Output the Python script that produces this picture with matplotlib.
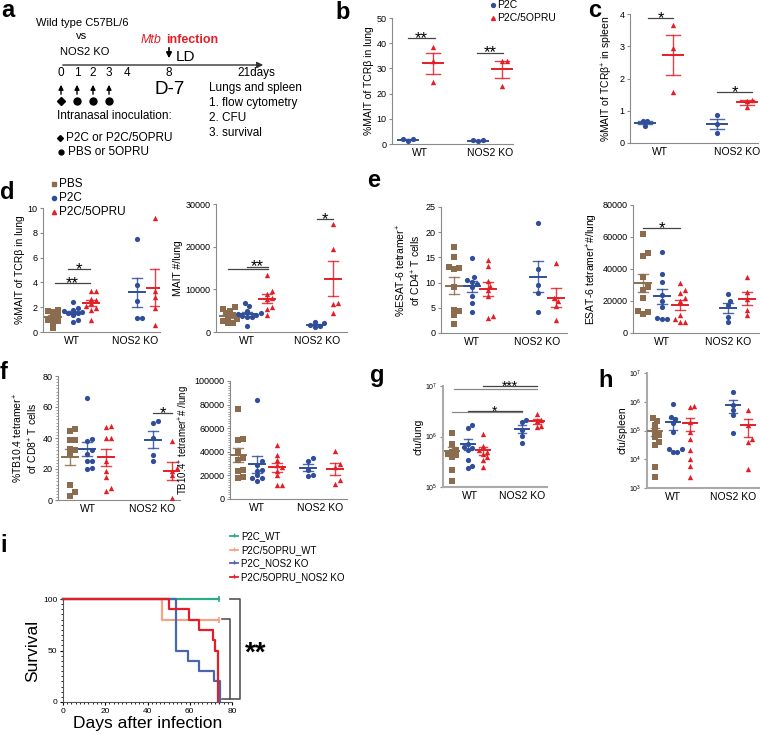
import numpy as np
import matplotlib.pyplot as plt
from matplotlib.ticker import AutoMinorLocator, NullLocator

plt.rcParams['font.family'] = ['Liberation Sans', 'DejaVu Sans']
plt.rcParams['mathtext.default'] = 'regular'

# ---------------- values ----------------
groups = ['WT', 'NOS2 KO']

# b: %MAIT of TCRb in lung
b_p2c_wt = [1.3, 2.0, 2.0]
b_opru_wt = [38.5, 33.0, 24.5]
b_p2c_ko = [1.0, 1.5, 1.6]
b_opru_ko = [33.0, 33.0, 23.0]

# c: %MAIT of TCRb+ in spleen
c_p2c_wt = [0.67, 0.54, 0.67]
c_opru_wt = [3.66, 2.94, 1.57]
c_p2c_ko = [0.87, 0.60, 0.30]
c_opru_ko = [1.34, 1.30, 1.13]

# d: %MAIT of TCRb in lung / MAIT #/lung
d_pbs_wt = [1.8, 1.7, 1.6, 1.4, 1.2, 1.0, 0.9, 0.8, 0.3]
d_p2c_wt = [2.4, 1.9, 1.8, 1.7, 1.6, 1.5, 1.5, 1.4, 1.0, 0.8]
d_opru_wt = [3.3, 3.3, 2.7, 2.6, 2.3, 2.1, 1.9, 1.8, 1.0]
d_p2c_ko = [7.5, 3.8, 2.5, 1.1, 1.1]
d_opru_ko = [9.2, 3.3, 2.8, 1.9, 0.6]

dn_pbs_wt = [5800, 5500, 5000, 4500, 4000, 3500, 3000, 2500, 2200, 2000]
dn_p2c_wt = [6700, 6000, 5000, 4500, 4200, 4000, 3800, 3600, 3500, 1500]
dn_opru_wt = [13300, 9700, 8900, 7900, 7700, 5800, 5500, 4000]
dn_p2c_ko = [2300, 2000, 1700, 1500, 1200]
dn_opru_ko = [25200, 19400, 6700, 6500, 4500]

# e: ESAT-6 tetramer+ CD4 T cells
e_pbs_wt = [17.0, 15.0, 13.0, 12.8, 12.7, 9.2, 4.6, 4.3, 3.6, 1.8]
e_p2c_wt = [14.9, 11.1, 10.6, 10.2, 9.8, 9.2, 7.4, 6.0, 4.1]
e_opru_wt = [14.4, 13.2, 10.4, 9.4, 8.6, 7.4, 3.4, 2.9]
e_p2c_ko = [21.9, 12.6, 9.5, 7.9, 4.1]
e_opru_ko = [13.8, 7.0, 6.3, 5.4, 2.5]

en_pbs_wt = [62000, 50000, 48000, 35000, 29000, 27000, 22000, 14000, 13000, 12000]
en_p2c_wt = [50500, 37000, 32000, 24000, 20000, 16000, 9500, 9000, 8500]
en_opru_wt = [31500, 27000, 25000, 22000, 20000, 11000, 9000, 7000, 7000]
en_p2c_ko = [24500, 20000, 17500, 10000, 7000]
en_opru_ko = [34800, 25500, 21500, 14500, 11000]

# f: TB10.4 tetramer+ CD8 T cells
f_pbs_wt = [46.0, 44.5, 39.0, 38.5, 33.0, 32.0, 30.0, 9.5, 5.0, 2.5]
f_p2c_wt = [65.5, 39.5, 38.0, 32.0, 30.0, 25.0, 25.0, 20.5, 20.0]
f_opru_wt = [48.0, 47.0, 40.0, 40.0, 25.0, 19.0, 15.0, 8.0, 6.0]
f_p2c_ko = [51.0, 50.0, 40.0, 29.0, 25.0]
f_opru_ko = [38.0, 20.5, 19.0, 16.0, 1.5]

fn_pbs_wt = [76500, 51000, 50000, 40000, 35000, 33000, 25000, 23500, 19000, 18000]
fn_p2c_wt = [83500, 32000, 29000, 25000, 24000, 20000, 18000, 17500, 15500]
fn_opru_wt = [46000, 37500, 33000, 29000, 27000, 24000, 20000, 12000, 12000]
fn_p2c_ko = [34500, 32500, 25000, 20500, 19500]
fn_opru_ko = [41000, 30000, 27000, 16000, 13000]

# g: cfu/lung
g_pbs_wt = [1.2e6, 7.2e5, 5.4e5, 5.0e5, 4.6e5, 4.3e5, 4.0e5, 2.2e5, 1.3e5]
g_p2c_wt = [1.7e6, 1.45e6, 7.2e5, 6.2e5, 5.8e5, 5.4e5, 3.4e5, 2.6e5, 2.4e5]
g_opru_wt = [1.1e6, 6.4e5, 5.4e5, 5.0e5, 4.6e5, 4.0e5, 3.4e5, 2.5e5]
g_p2c_ko = [2.1e6, 1.95e6, 1.35e6, 1.02e6, 7.6e5]
g_opru_ko = [2.75e6, 2.1e6, 2.0e6, 1.6e6, 1.55e6]

# h: cfu/spleen
h_pbs_wt = [2.8e5, 2.1e5, 1.5e5, 1.0e5, 7.0e4, 5.8e4, 3.9e4, 3.2e4, 5.4e3, 2.4e3]
h_p2c_wt = [8.3e5, 3.0e5, 2.5e5, 1.8e5, 8.7e4, 2.2e4, 2.2e4, 1.8e4, 1.8e4]
h_opru_wt = [7.0e5, 6.4e5, 1.9e5, 8.7e4, 5.0e4, 2.1e4, 1.0e4, 6.0e3, 2.4e3]
h_p2c_ko = [2.1e6, 7.6e5, 5.0e5, 3.4e5, 8.0e4]
h_opru_ko = [5.0e5, 1.6e5, 5.0e4, 3.9e4, 4.7e3]

# i: survival (step curves)
surv_names = ['P2C_WT', 'P2C/5OPRU_WT', 'P2C_NOS2 KO', 'P2C/5OPRU_NOS2 KO']
t_p2c_wt = [0, 73.7]
s_p2c_wt = [100, 100]
t_opru_wt = [0, 47, 73.7]
s_opru_wt = [100, 80, 80]
t_p2c_ko = [0, 53.4, 59.4, 64.5, 71.3, 74.5]
s_p2c_ko = [100, 50, 40, 30, 20, 0]
t_opru_ko = [0, 50.4, 59.7, 64.5, 71.0, 72.1, 73.5]
s_opru_ko = [100, 90, 80, 70, 60, 50, 0]

# ---------------- style ----------------
BROWN = '#8c6c4f'
BLUE = '#2f4d99'
RED = '#e31e27'
TEAL = '#2aaa8a'
SALMON = '#f4a482'
SBLUE = '#4a67ad'
SPINE = '#8a8a8a'

W, H = 760, 735
fig = plt.figure(figsize=(W / 100, H / 100), dpi=100)


def px_axes(x0, y0, x1, y1):
    ax = fig.add_axes([x0 / W, 1 - y1 / H, (x1 - x0) / W, (y1 - y0) / H])
    ax.patch.set_visible(False)
    ax.set_xlim(0, x1 - x0)
    return ax


def swarm(yp, d):
    # simple beeswarm offsets (in pixels) so points of similar value sit side by side
    order = np.argsort(yp)
    placed = []
    offs = np.zeros(len(yp))
    for i in order:
        for k in range(40):
            cands = [0.0] if k == 0 else [k * d * 0.5, -k * d * 0.5]
            found = None
            for off in cands:
                if all((off - px) ** 2 + (yp[i] - py) ** 2 >= d * d for px, py in placed):
                    found = off
                    break
            if found is not None:
                break
        placed.append((found, yp[i]))
        offs[i] = found
    return offs


def dot_panel(ax, height, series, ylim, log=False, hw=8, cap=5, d=4.6):
    lo, hi = ylim
    for xc, vals, color, marker in series:
        v = np.asarray(vals, float)
        if log:
            yp = (np.log10(v) - np.log10(lo)) / (np.log10(hi) - np.log10(lo)) * height
        else:
            yp = (v - lo) / (hi - lo) * height
        xs = xc + swarm(yp, d)
        size = {'s': 17, 'o': 14, '^': 15}[marker]
        ax.scatter(xs, v, s=size, marker=marker, color=color, lw=0, zorder=3)
        m = v.mean()
        se = v.std(ddof=1) / np.sqrt(len(v))
        ax.plot([xc - hw, xc + hw], [m, m], color=color, lw=1.4, zorder=4)
        ax.plot([xc, xc], [m - se, m + se], color=color, lw=1.0, zorder=4, alpha=0.85)
        for yy in (m - se, m + se):
            ax.plot([xc - cap, xc + cap], [yy, yy], color=color, lw=1.0, zorder=4, alpha=0.85)
    if log:
        ax.set_yscale('log')
        ax.yaxis.set_minor_locator(NullLocator())
    ax.set_ylim(lo, hi)
    for s in ('top', 'right'):
        ax.spines[s].set_visible(False)
    for s in ('left', 'bottom'):
        ax.spines[s].set_color(SPINE)
    ax.tick_params(axis='x', length=0, labelsize=7.5, pad=3)
    ax.tick_params(axis='y', length=2.5, width=0.8, color=SPINE, labelsize=6.5, pad=1.5)


def sig(ax, x1, x2, y, txt, fs=12, color='#444444'):
    ax.plot([x1, x2], [y, y], color=color, lw=0.9, clip_on=False, zorder=5)
    ax.annotate(txt, ((x1 + x2) / 2, y), xytext=(0, -3.5), textcoords='offset points',
                ha='center', va='baseline', fontsize=fs, annotation_clip=False)


# ---------------- b ----------------
ax = px_axes(392, 18, 513, 144)
dot_panel(ax, 126, [(16, b_p2c_wt, BLUE, 'o'), (41, b_opru_wt, RED, '^'),
                    (86, b_p2c_ko, BLUE, 'o'), (110, b_opru_ko, RED, '^')],
          (0, 50), hw=10, cap=7)
ax.set_yticks([0, 10, 20, 30, 40, 50])
ax.set_xticks([28, 98], groups)
ax.set_ylabel('%MAIT of TCRβ in lung', fontsize=7.5, labelpad=2)
sig(ax, 16, 43, 42, '**')
sig(ax, 85, 111, 36.3, '**')

# ---------------- c ----------------
ax = px_axes(630, 14, 758, 143)
dot_panel(ax, 129, [(15, c_p2c_wt, BLUE, 'o'), (43, c_opru_wt, RED, '^'),
                    (87, c_p2c_ko, BLUE, 'o'), (117, c_opru_ko, RED, '^')],
          (0, 4), hw=10, cap=7)
ax.set_yticks([0, 1, 2, 3, 4])
ax.set_xticks([30, 107], groups)
ax.set_ylabel('%MAIT of TCRβ$^{+}$ in spleen', fontsize=7.5, labelpad=3)
sig(ax, 18, 43, 3.87, '*')
sig(ax, 87, 122, 1.58, '*')

# ---------------- d ----------------
ax = px_axes(43, 208, 160, 332)
dot_panel(ax, 124, [(10, d_pbs_wt, BROWN, 's'), (30, d_p2c_wt, BLUE, 'o'),
                    (48, d_opru_wt, RED, '^'), (94, d_p2c_ko, BLUE, 'o'),
                    (112, d_opru_ko, RED, '^')], (0, 10))
ax.set_yticks([0, 2, 4, 6, 8, 10])
ax.set_xticks([29, 92], groups)
ax.set_ylabel('%MAIT of TCRβ in lung', fontsize=7.5, labelpad=2)
sig(ax, 12, 47, 3.97, '**')
sig(ax, 25, 47, 5.08, '*')

ax = px_axes(216, 204, 347, 332)
dot_panel(ax, 128, [(12, dn_pbs_wt, BROWN, 's'), (31, dn_p2c_wt, BLUE, 'o'),
                    (51, dn_opru_wt, RED, '^'), (99, dn_p2c_ko, BLUE, 'o'),
                    (117, dn_opru_ko, RED, '^')], (0, 30000))
ax.set_yticks([0, 10000, 20000, 30000])
ax.set_xticks([31, 101], groups)
ax.set_ylabel('MAIT #/lung', fontsize=7.5, labelpad=2)
sig(ax, 12, 52, 14700, '')
sig(ax, 31, 52, 15300, '**')
sig(ax, 101, 117, 26400, '*')

# ---------------- e ----------------
ax = px_axes(441, 207, 567, 333)
dot_panel(ax, 126, [(13, e_pbs_wt, BROWN, 's'), (31, e_p2c_wt, BLUE, 'o'),
                    (47, e_opru_wt, RED, '^'), (97, e_p2c_ko, BLUE, 'o'),
                    (115, e_opru_ko, RED, '^')], (0, 25))
ax.set_yticks([0, 5, 10, 15, 20, 25])
ax.set_xticks([31, 96], groups)
ax.set_ylabel('%ESAT-6 tetramer$^{+}$\nof CD4$^{+}$ T cells', fontsize=7.5, labelpad=2,
              linespacing=1.1)

ax = px_axes(633, 205, 760, 333)
dot_panel(ax, 128, [(10, en_pbs_wt, BROWN, 's'), (29, en_p2c_wt, BLUE, 'o'),
                    (47, en_opru_wt, RED, '^'), (95, en_p2c_ko, BLUE, 'o'),
                    (114, en_opru_ko, RED, '^')], (0, 80000))
ax.set_yticks([0, 20000, 40000, 60000, 80000])
ax.set_xticks([29, 95], groups)
ax.set_ylabel('ESAT-6 tetramer$^{+}$#/lung', fontsize=7.5, labelpad=2)
sig(ax, 10, 47, 65500, '*')

# ---------------- f ----------------
ax = px_axes(58, 376, 180, 500)
dot_panel(ax, 124, [(12, f_pbs_wt, BROWN, 's'), (29, f_p2c_wt, BLUE, 'o'),
                    (48, f_opru_wt, RED, '^'), (95, f_p2c_ko, BLUE, 'o'),
                    (114, f_opru_ko, RED, '^')], (0, 80))
ax.set_yticks([0, 20, 40, 60, 80])
ax.yaxis.set_minor_locator(AutoMinorLocator(10))
ax.tick_params(axis='y', which='minor', length=1.2, width=0.6, color=SPINE)
ax.set_xticks([30, 94], groups)
ax.set_ylabel('%TB10.4 tetramer$^{+}$\nof CD8$^{+}$ T cells', fontsize=7.5, labelpad=2,
              linespacing=1.1)
sig(ax, 95, 114, 55.9, '*')

ax = px_axes(230, 381, 347, 499)
dot_panel(ax, 118, [(8, fn_pbs_wt, BROWN, 's'), (27, fn_p2c_wt, BLUE, 'o'),
                    (47, fn_opru_wt, RED, '^'), (78, fn_p2c_ko, BLUE, 'o'),
                    (105, fn_opru_ko, RED, '^')], (0, 100000))
ax.set_yticks([0, 20000, 40000, 60000, 80000, 100000])
ax.yaxis.set_minor_locator(AutoMinorLocator(10))
ax.tick_params(axis='y', which='minor', length=1.2, width=0.6, color=SPINE)
ax.set_xticks([27, 90], groups)
ax.set_ylabel('TB10.4$^{+}$ tetramer$^{+}$# /lung', fontsize=7, labelpad=2)

# ---------------- g ----------------
ax = px_axes(443, 386, 547, 487)
dot_panel(ax, 101, [(9, g_pbs_wt, BROWN, 's'), (25, g_p2c_wt, BLUE, 'o'),
                    (40, g_opru_wt, RED, '^'), (79, g_p2c_ko, BLUE, 'o'),
                    (94, g_opru_ko, RED, '^')], (1e5, 1e7), log=True, hw=7, cap=4, d=4.3)
ax.set_yticks([1e5, 1e6, 1e7])
ax.tick_params(axis='y', labelsize=5)
ax.set_xticks([27, 79], groups)
for s in ('left', 'bottom'):
    ax.spines[s].set_color('#aaaaaa')
    ax.spines[s].set_linewidth(1.5)
ax.set_ylabel('cfu/lung', fontsize=7.5, labelpad=1)
sig(ax, 9, 79, 3.0e6, '', color='#888888')
sig(ax, 25, 79, 3.25e6, '*', fs=10)
sig(ax, 11, 94, 8.9e6, '', color='#888888')
sig(ax, 40, 94, 1.0e7, '***', fs=10)

# ---------------- h ----------------
ax = px_axes(647, 373, 760, 488)
dot_panel(ax, 115, [(8, h_pbs_wt, BROWN, 's'), (26, h_p2c_wt, BLUE, 'o'),
                    (43, h_opru_wt, RED, '^'), (86, h_p2c_ko, BLUE, 'o'),
                    (101, h_opru_ko, RED, '^')], (1e3, 1e7), log=True, hw=7, cap=4, d=4.3)
ax.set_yticks([1e3, 1e4, 1e5, 1e6, 1e7])
ax.tick_params(axis='y', labelsize=5)
ax.set_xticks([26, 86], groups)
for s in ('left', 'bottom'):
    ax.spines[s].set_color('#aaaaaa')
    ax.spines[s].set_linewidth(1.5)
ax.set_ylabel('cfu/spleen', fontsize=7.5, labelpad=1)

# ---------------- i ----------------
ax = fig.add_axes([63 / W, 1 - 702 / H, (232 - 63) / W, (702 - 599) / H])
ax.patch.set_visible(False)
curves = [(t_p2c_wt, s_p2c_wt, TEAL), (t_opru_wt, s_opru_wt, SALMON),
          (t_p2c_ko, s_p2c_ko, SBLUE), (t_opru_ko, s_opru_ko, RED)]
for t, s, col in curves:
    ax.step(t, s, where='post', color=col, lw=1.6, clip_on=False)
ax.plot([t_p2c_wt[-1]], [s_p2c_wt[-1]], marker='|', color=TEAL, ms=4, mew=1.2, clip_on=False)
ax.plot([t_opru_wt[-1]], [s_opru_wt[-1]], marker='|', color=SALMON, ms=4, mew=1.2, clip_on=False)
ax.set_xlim(0, 80)
ax.set_ylim(0, 100)
ax.set_xticks([0, 20, 40, 60, 80])
ax.set_yticks([0, 50, 100])
ax.xaxis.set_minor_locator(AutoMinorLocator(10))
ax.yaxis.set_minor_locator(AutoMinorLocator(10))
for s in ('top', 'right'):
    ax.spines[s].set_visible(False)
for s in ('left', 'bottom'):
    ax.spines[s].set_color('#555555')
ax.tick_params(which='major', length=2.5, width=0.8, labelsize=6, pad=1.5)
ax.tick_params(which='minor', length=1.2, width=0.6)
ax.set_ylabel('Survival', fontsize=12.5, labelpad=2)
ax.set_xlabel('Days after infection', fontsize=12.5, labelpad=1)
ax.plot([79, 84, 84, 79], [100, 100, 3, 3], color='#555555', lw=1.2, clip_on=False)
ax.plot([75.5, 79, 79, 75.5], [81, 81, 3, 3], color='#555555', lw=1.2, clip_on=False)
ax.text(86, 47, '**', fontsize=20, va='center', ha='left', fontweight='bold')

# ---------------- overlay: panel a, letters, legends ----------------
ov = fig.add_axes([0, 0, 1, 1], zorder=5)
ov.set_xlim(0, W)
ov.set_ylim(H, 0)
ov.axis('off')

for lab, x, y in [('a', 1, 10), ('b', 335, 12), ('c', 588, 10), ('d', 0, 192),
                  ('e', 367, 180), ('f', 0, 372), ('g', 370, 375), ('h', 598, 380),
                  ('i', 0, 545)]:
    ov.text(x, y, lab, fontsize=17, fontweight='bold', ha='left', va='center')

# schematic (panel a)
ov.text(82, 23, 'Wild type C57BL/6', fontsize=8, ha='center', va='center')
ov.text(82, 36, 'vs', fontsize=8, ha='center', va='center')
ov.text(85, 52, 'NOS2 KO', fontsize=8, ha='center', va='center')
ov.text(141, 40, 'Mtb', fontsize=9, color=RED, style='italic', ha='left', va='center')
ov.text(166, 40, 'infection', fontsize=9, color=RED, fontweight='bold', ha='left', va='center')
ov.annotate('', xy=(169, 61), xytext=(169, 45),
            arrowprops=dict(arrowstyle='-|>', color='black', lw=1.2, mutation_scale=8))
ov.text(176, 57, 'LD', fontsize=11, ha='left', va='center')
ov.annotate('', xy=(266, 65), xytext=(60, 65),
            arrowprops=dict(arrowstyle='-|>', color='#333333', lw=1.0, mutation_scale=9))
day_labels = ['0', '1', '2', '3', '4', '8']
day_x = [61, 77, 93, 109, 127, 169]
for lab, x in zip(day_labels, day_x):
    ov.text(x, 73, lab, fontsize=8.5, ha='center', va='center')
ov.text(237, 73, '21days', fontsize=8.5, ha='left', va='center')
ov.text(170, 89, 'D-7', fontsize=13.5, ha='center', va='center')
for i, x in enumerate(day_x[:4]):
    ov.annotate('', xy=(x, 82), xytext=(x, 97),
                arrowprops=dict(arrowstyle='-|>', color='black', lw=1.0, mutation_scale=7))
    ov.plot([x], [101], marker='D' if i == 0 else 'o', color='black', ms=4.5 if i == 0 else 5)
ov.text(57, 116, 'Intranasal inoculation:', fontsize=8.5, ha='left', va='center')
ov.plot([60], [138], marker='D', color='black', ms=3)
ov.text(66, 138, 'P2C or P2C/5OPRU', fontsize=8.5, ha='left', va='center')
ov.plot([61], [152], marker='o', color='black', ms=3.5)
ov.text(68, 152, 'PBS or 5OPRU', fontsize=8.5, ha='left', va='center')
ov.text(209, 88, 'Lungs and spleen', fontsize=8.5, ha='left', va='center')
ov.text(209, 103, '1. flow cytometry', fontsize=8.5, ha='left', va='center')
ov.text(209, 118, '2. CFU', fontsize=8.5, ha='left', va='center')
ov.text(209, 133, '3. survival', fontsize=8.5, ha='left', va='center')

# legend b/c
ov.plot([493], [5], marker='o', color=BLUE, ms=2.8, lw=0)
ov.text(497, 5, 'P2C', fontsize=7.5, ha='left', va='center')
ov.plot([493], [18], marker='^', color=RED, ms=2.8, lw=0)
ov.text(497, 18, 'P2C/5OPRU', fontsize=7.5, ha='left', va='center')

# legend d
for y, lab, col, mk in [(184, 'PBS', BROWN, 's'), (198, 'P2C', BLUE, 'o'),
                        (212, 'P2C/5OPRU', RED, '^')]:
    ov.plot([54], [y], marker=mk, color=col, ms=3, lw=0)
    ov.text(59, y, lab, fontsize=8.5, ha='left', va='center')

# legend i
for y, lab, col in zip([536, 550, 563, 577], surv_names, [TEAL, SALMON, SBLUE, RED]):
    ov.plot([230, 238], [y, y], color=col, lw=1.3)
    ov.plot([234], [y - 1], marker='|', color=col, ms=3, mew=1)
    ov.text(241, y, lab, fontsize=7, ha='left', va='center')

fig.savefig('out.png', dpi=100)
